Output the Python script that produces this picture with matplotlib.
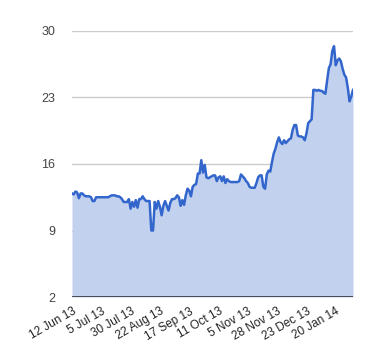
import matplotlib
matplotlib.use("Agg")
import matplotlib.pyplot as plt
import numpy as np

plt.rcParams['font.family'] = ['Liberation Sans', 'DejaVu Sans']

values = [
    12.9, 12.8, 13.1, 13.0, 12.4, 12.9, 12.9, 12.7, 12.6, 12.6,
    12.6, 12.5, 12.1, 12.1, 12.5, 12.5, 12.5, 12.5, 12.5, 12.5,
    12.5, 12.5, 12.6, 12.7, 12.7, 12.7, 12.6, 12.6, 12.5, 12.3,
    12.0, 12.0, 12.0, 12.3, 11.3, 12.0, 11.5, 12.2, 11.4, 12.3,
    12.3, 12.6, 12.3, 12.1, 12.1, 12.1, 9.0, 9.0, 12.0, 11.3,
    12.1, 11.5, 10.6, 11.6, 12.1, 11.6, 11.1, 11.9, 12.3, 12.3,
    12.4, 12.7, 12.5, 11.6, 12.2, 11.7, 12.7, 13.4, 13.2, 12.6,
    13.6, 13.8, 13.9, 15.0, 15.0, 16.4, 15.1, 15.9, 14.6, 14.5,
    14.6, 14.7, 14.8, 14.8, 14.2, 14.6, 14.7, 14.2, 14.7, 14.0,
    14.4, 14.2, 14.1, 14.1, 14.1, 14.1, 14.1, 14.2, 14.9, 14.7,
    14.5, 14.2, 14.0, 13.6, 13.5, 13.5, 13.5, 14.0, 14.6, 14.8,
    14.8, 13.6, 13.4, 14.9, 15.3, 15.2, 16.2, 17.1, 17.6, 18.3,
    18.8, 18.3, 18.1, 18.5, 18.2, 18.4, 18.6, 18.7, 19.6, 20.1,
    20.1, 19.0, 18.9, 18.9, 18.8, 18.5, 19.2, 20.3, 20.5, 20.7,
    23.8, 23.8, 23.7, 23.8, 23.7, 23.7, 23.5, 23.4, 24.8, 26.1,
    26.5, 27.9, 28.4, 26.4, 26.9, 27.1, 26.8, 26.0, 25.4, 25.1,
    24.0, 22.6, 23.1, 23.8,
]
x_labels = ["12 Jun 13", "5 Jul 13", "30 Jul 13", "22 Aug 13", "17 Sep 13",
            "11 Oct 13", "5 Nov 13", "28 Nov 13", "23 Dec 13", "20 Jan 14"]
label_step = 17
y_ticks = [2, 9, 16, 23, 30]

x = np.arange(len(values))
fig = plt.figure(figsize=(3.8, 3.6), dpi=100)
ax = fig.add_axes([72/380, 1-297/360, (353-72)/380, (297-31)/360])

ax.fill_between(x, 2, values, color='#c2d1ee', linewidth=0, zorder=2)
ax.plot(x, values, color='#3366cc', linewidth=1.8, zorder=3, solid_joinstyle='round')

ax.set_xlim(0, len(values) - 1)
ax.set_ylim(2, 30)
ax.set_yticks(y_ticks)
ax.set_yticklabels([str(t) for t in y_ticks], fontsize=9, color='#444444')
for t in y_ticks[1:]:
    ax.axhline(t, color='#cccccc', linewidth=1, zorder=1)
ax.axhline(2, color='#333333', linewidth=1.2, zorder=4)

xt = [i * label_step for i in range(len(x_labels))]
ax.set_xticks(xt)
ax.set_xticklabels(x_labels, fontsize=8.5, color='#222222', rotation=30,
                   ha='right', va='top', rotation_mode='anchor')
ax.tick_params(axis='both', length=0)
ax.tick_params(axis='y', pad=12)
ax.tick_params(axis='x', pad=6)
for s in ax.spines.values():
    s.set_visible(False)

fig.savefig('out.png', dpi=100)
